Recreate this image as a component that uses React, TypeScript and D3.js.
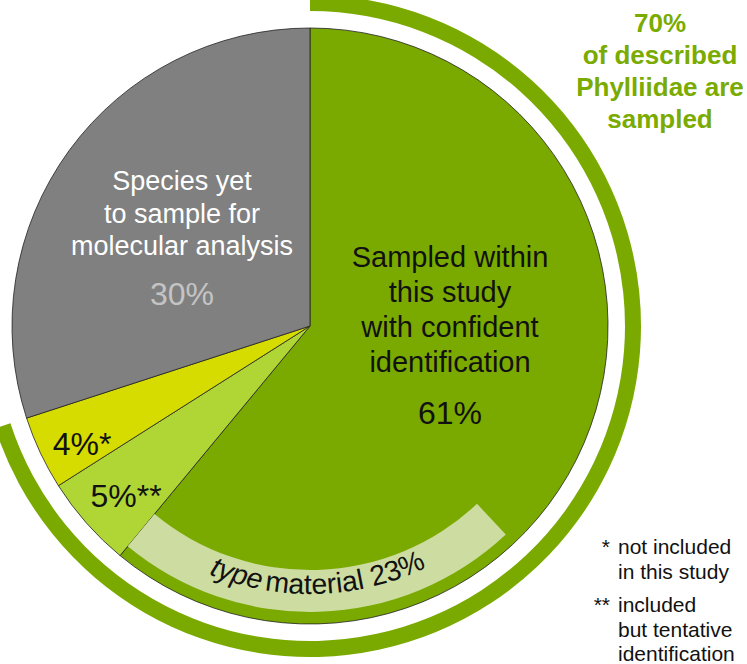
import React, { useEffect, useRef } from "react";
import * as d3 from "d3";

// slice values, clockwise from 12 o'clock
const slices = ["confident", "tentative", "notIncluded", "yetToSample"];
const shares = [61, 5, 4, 30];
const sliceColors = ["#7aaa00", "#b0d636", "#d6dc00", "#808080"];
const sampledShare = 70; // outer ring
const typeMaterialShare = 23; // pale band inside the big slice

const W = 747, H = 664;
const cx = 310, cy = 326, R = 298;
const FONT = "Liberation Sans, Arial, sans-serif";

const App = () => {
  const svgRef = useRef<SVGSVGElement>(null);

  useEffect(() => {
    const svg = d3.select(svgRef.current);
    svg.selectAll("*").remove();

    const pie = d3.pie<number>().sort(null).value(d => d);
    const arcs = pie(shares);
    const arc = d3.arc<any>().innerRadius(0).outerRadius(R);

    const g = svg.append("g").attr("transform", `translate(${cx},${cy})`);

    // pie slices
    g.selectAll("path.slice")
      .data(arcs)
      .enter().append("path")
      .attr("class", "slice")
      .attr("d", arc)
      .attr("fill", (d, i) => sliceColors[i])
      .attr("stroke", "#222")
      .attr("stroke-width", 0.8);

    // outer ring: share of described species that are sampled
    const ringArc = d3.arc<any>().innerRadius(315).outerRadius(331);
    g.append("path")
      .attr("d", ringArc({ startAngle: 0, endAngle: (sampledShare / 100) * 2 * Math.PI }))
      .attr("fill", sliceColors[0]);

    // type material band
    const bandEnd = arcs[0].endAngle;
    const bandStart = bandEnd - (typeMaterialShare / 100) * 2 * Math.PI;
    const bandArc = d3.arc<any>().innerRadius(244).outerRadius(286);
    g.append("path")
      .attr("d", bandArc({ startAngle: bandStart, endAngle: bandEnd }))
      .attr("fill", "#cddca0");

    // curved label along the band
    const mid = (bandStart + bandEnd) / 2;
    const tr = 268;
    const a1 = mid + 1.1, a2 = mid - 1.1;
    const p = (a: number) => [tr * Math.sin(a), -tr * Math.cos(a)];
    const [x1, y1] = p(a1), [x2, y2] = p(a2);
    g.append("path")
      .attr("id", "typePath")
      .attr("d", `M${x1},${y1} A${tr},${tr} 0 0 0 ${x2},${y2}`)
      .attr("fill", "none");
    const tp = g.append("text")
      .attr("font-family", FONT)
      .attr("font-size", 28.5)
      .attr("fill", "#111")
      .append("textPath")
      .attr("href", "#typePath")
      .attr("startOffset", "50%")
      .attr("text-anchor", "middle");
    tp.append("tspan").attr("font-style", "italic").text("type");
    tp.append("tspan").attr("dx", 4).text(`material ${typeMaterialShare}%`);

    // labels in the big green slice
    const green = g.append("g").attr("font-family", FONT).attr("fill", "#111").attr("text-anchor", "middle");
    ["Sampled within", "this study", "with confident", "identification"].forEach((t, i) => {
      green.append("text").attr("x", 140).attr("y", -59 + i * 35).attr("font-size", 29).text(t);
    });
    green.append("text").attr("x", 140).attr("y", 98).attr("font-size", 32).text(`${shares[0]}%`);

    // labels in the grey slice
    const grey = g.append("g").attr("font-family", FONT).attr("text-anchor", "middle");
    ["Species yet", "to sample for", "molecular analysis"].forEach((t, i) => {
      grey.append("text").attr("x", -128).attr("y", -136 + i * 32.5).attr("font-size", 27).attr("fill", "#fff").text(t);
    });
    grey.append("text").attr("x", -128).attr("y", -21).attr("font-size", 32).attr("fill", "#c4c4c4").text(`${shares[3]}%`);

    // small slices
    g.append("text").attr("x", -228).attr("y", 129).attr("font-family", FONT).attr("font-size", 32)
      .attr("text-anchor", "middle").attr("fill", "#111").text(`${shares[2]}%*`);
    g.append("text").attr("x", -184).attr("y", 181).attr("font-family", FONT).attr("font-size", 32)
      .attr("text-anchor", "middle").attr("fill", "#111").text(`${shares[1]}%**`);

    // top-right annotation
    const note = svg.append("g").attr("font-family", FONT).attr("font-weight", "bold")
      .attr("font-size", 26).attr("fill", "#7aab00").attr("text-anchor", "middle");
    [`${sampledShare}%`, "of described", "Phylliidae are", "sampled"].forEach((t, i) => {
      note.append("text").attr("x", 660).attr("y", 32 + i * 32).text(t);
    });

    // footnotes
    const foot = svg.append("g").attr("font-family", FONT).attr("font-size", 21).attr("fill", "#111");
    const footRows = [
      { mark: "*", lines: ["not included", "in this study"], y: 554 },
      { mark: "**", lines: ["included", "but tentative", "identification"], y: 612 },
    ];
    footRows.forEach(r => {
      foot.append("text").attr("x", 610).attr("y", r.y).attr("text-anchor", "end").text(r.mark);
      r.lines.forEach((l, i) => {
        foot.append("text").attr("x", 618).attr("y", r.y + i * 24.5).text(l);
      });
    });
  }, []);

  return (
    <svg
      ref={svgRef}
      width={W}
      height={H}
      style={{ position: "absolute", left: 0, top: 0, background: "#fff" }}
    />
  );
};

export default App;
